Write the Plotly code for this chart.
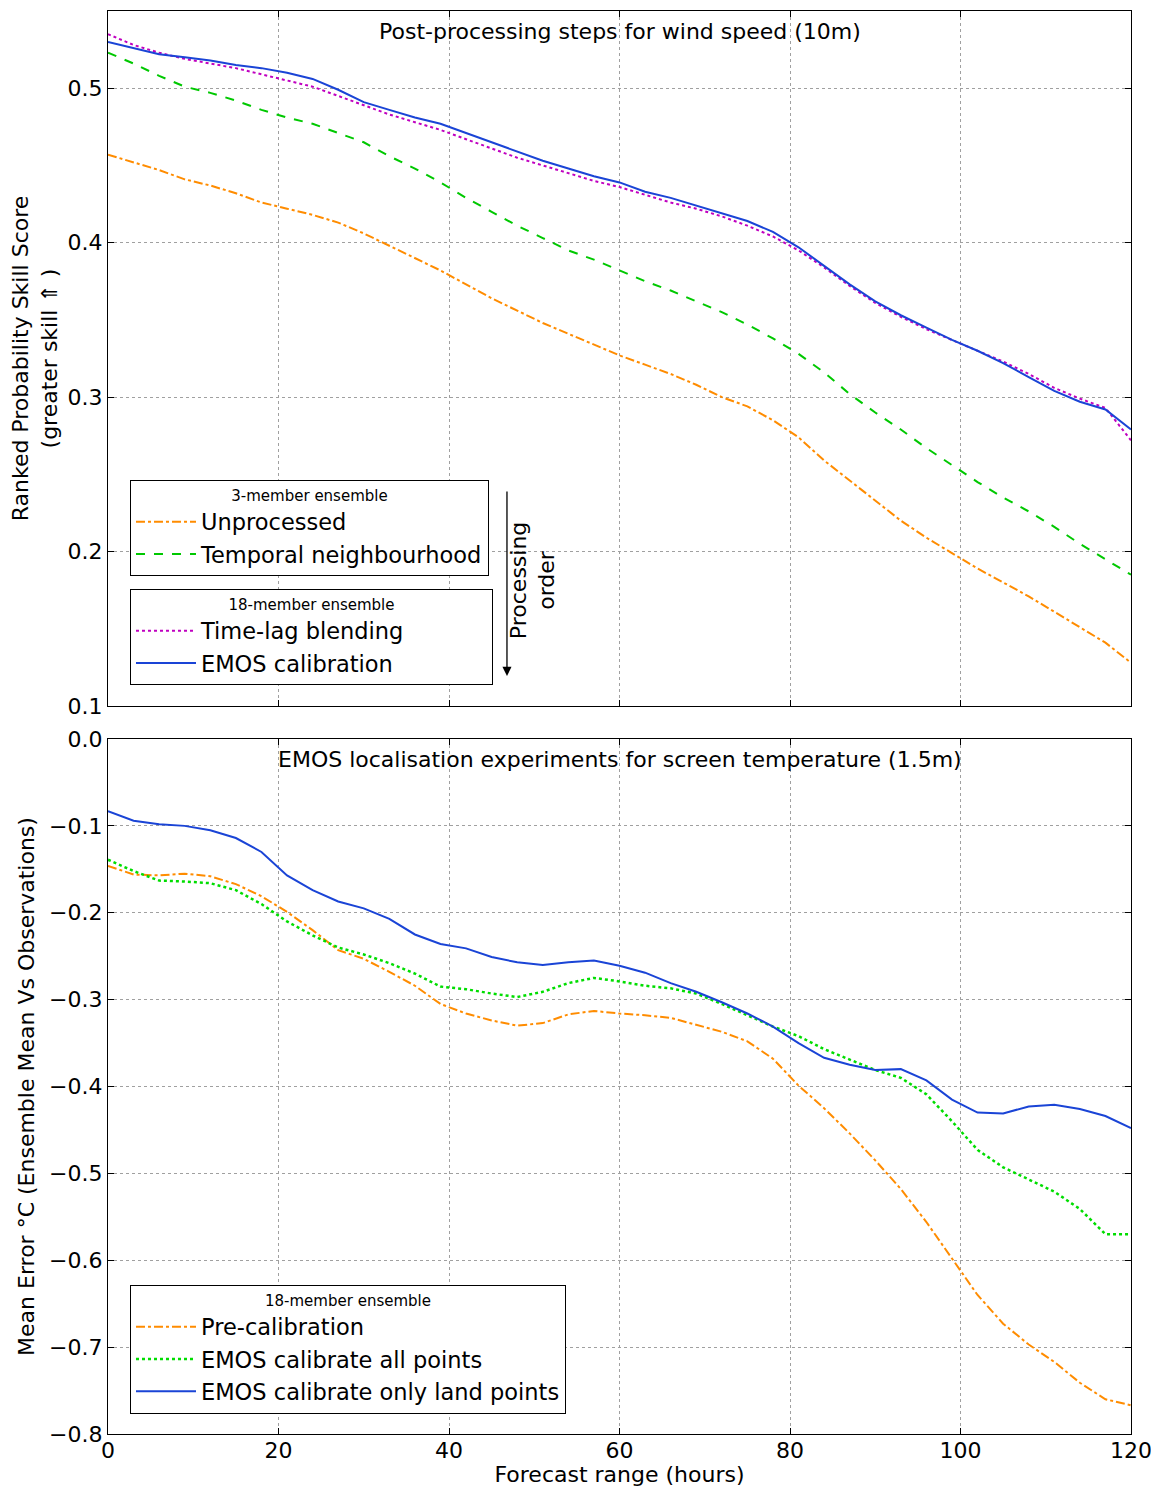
import plotly.graph_objects as go
from plotly.subplots import make_subplots

hours = list(range(0, 121, 3))

# Top panel: RPSS wind speed
unprocessed = [0.457, 0.452, 0.447, 0.441, 0.437, 0.432, 0.426, 0.422, 0.418, 0.413,
               0.406, 0.398, 0.390, 0.382, 0.373, 0.364, 0.356, 0.348, 0.341, 0.334,
               0.327, 0.321, 0.315, 0.308, 0.300, 0.294, 0.285, 0.274, 0.259, 0.246,
               0.233, 0.220, 0.209, 0.199, 0.189, 0.180, 0.171, 0.161, 0.151, 0.141, 0.128]
temporal = [0.523, 0.516, 0.508, 0.501, 0.497, 0.492, 0.486, 0.481, 0.477, 0.471,
            0.465, 0.456, 0.448, 0.439, 0.429, 0.420, 0.411, 0.403, 0.395, 0.389,
            0.382, 0.375, 0.369, 0.362, 0.355, 0.347, 0.338, 0.328, 0.316, 0.302,
            0.290, 0.279, 0.267, 0.256, 0.245, 0.235, 0.226, 0.216, 0.205, 0.195, 0.185]
timelag = [0.535, 0.528, 0.523, 0.519, 0.516, 0.513, 0.509, 0.505, 0.501, 0.495,
           0.489, 0.483, 0.478, 0.473, 0.467, 0.461, 0.455, 0.450, 0.445, 0.440,
           0.436, 0.431, 0.426, 0.422, 0.417, 0.411, 0.404, 0.395, 0.384, 0.372,
           0.361, 0.352, 0.344, 0.337, 0.330, 0.323, 0.315, 0.306, 0.299, 0.293, 0.272]
emos_cal = [0.530, 0.526, 0.522, 0.520, 0.518, 0.515, 0.513, 0.510, 0.506, 0.499,
            0.491, 0.486, 0.481, 0.477, 0.471, 0.465, 0.459, 0.453, 0.448, 0.443,
            0.439, 0.433, 0.429, 0.424, 0.419, 0.414, 0.407, 0.397, 0.385, 0.373,
            0.362, 0.353, 0.345, 0.337, 0.330, 0.322, 0.313, 0.304, 0.297, 0.292, 0.279]

# Bottom panel: mean error screen temperature
precal = [-0.146, -0.156, -0.157, -0.155, -0.158, -0.167, -0.181, -0.199, -0.220, -0.243,
          -0.253, -0.268, -0.284, -0.305, -0.316, -0.324, -0.330, -0.327, -0.317, -0.313,
          -0.316, -0.318, -0.321, -0.329, -0.337, -0.348, -0.368, -0.399, -0.425, -0.454,
          -0.485, -0.518, -0.556, -0.598, -0.640, -0.673, -0.697, -0.717, -0.741, -0.760, -0.767]
emos_all = [-0.139, -0.152, -0.163, -0.164, -0.166, -0.174, -0.190, -0.210, -0.226, -0.240,
            -0.248, -0.258, -0.270, -0.285, -0.288, -0.293, -0.297, -0.291, -0.281, -0.275,
            -0.279, -0.284, -0.287, -0.293, -0.305, -0.318, -0.331, -0.342, -0.357, -0.369,
            -0.381, -0.390, -0.409, -0.440, -0.473, -0.493, -0.507, -0.521, -0.541, -0.570, -0.570]
emos_land = [-0.083, -0.094, -0.098, -0.100, -0.105, -0.114, -0.130, -0.157, -0.174, -0.187,
             -0.195, -0.207, -0.225, -0.236, -0.241, -0.251, -0.257, -0.260, -0.257, -0.255,
             -0.261, -0.269, -0.281, -0.291, -0.303, -0.316, -0.331, -0.350, -0.367, -0.375,
             -0.381, -0.380, -0.393, -0.415, -0.430, -0.431, -0.423, -0.421, -0.426, -0.434, -0.448]

x_ticks = [0, 20, 40, 60, 80, 100, 120]
top_ticks = [0.1, 0.2, 0.3, 0.4, 0.5]
bot_ticks = [0.0, -0.1, -0.2, -0.3, -0.4, -0.5, -0.6, -0.7, -0.8]

ORANGE = "#FF8C00"
GREEN = "#00C800"
LIME = "#00DD00"
MAGENTA = "#C000C0"
BLUE = "#1A44D6"
FONT = "DejaVu Sans"
NB = "\u00a0"

fig = make_subplots(rows=2, cols=1, shared_xaxes=False, vertical_spacing=0.0232)

fig.add_trace(go.Scatter(x=hours, y=unprocessed, mode="lines", name="Unprocessed",
                         line=dict(color=ORANGE, width=2, dash="dashdot"), legend="legend"), row=1, col=1)
fig.add_trace(go.Scatter(x=hours, y=temporal, mode="lines", name="Temporal neighbourhood",
                         line=dict(color=GREEN, width=2, dash="dash"), legend="legend"), row=1, col=1)
fig.add_trace(go.Scatter(x=hours, y=timelag, mode="lines", name="Time-lag blending",
                         line=dict(color=MAGENTA, width=2, dash="dot"), legend="legend2"), row=1, col=1)
fig.add_trace(go.Scatter(x=hours, y=emos_cal, mode="lines", name="EMOS calibration",
                         line=dict(color=BLUE, width=2), legend="legend2"), row=1, col=1)

fig.add_trace(go.Scatter(x=hours, y=precal, mode="lines", name="Pre-calibration",
                         line=dict(color=ORANGE, width=2, dash="dashdot"), legend="legend3"), row=2, col=1)
fig.add_trace(go.Scatter(x=hours, y=emos_all, mode="lines", name="EMOS calibrate all points",
                         line=dict(color=LIME, width=2.5, dash="dot"), legend="legend3"), row=2, col=1)
fig.add_trace(go.Scatter(x=hours, y=emos_land, mode="lines", name="EMOS calibrate only land points",
                         line=dict(color=BLUE, width=2), legend="legend3"), row=2, col=1)

axis_common = dict(showline=True, linecolor="black", linewidth=1.2, mirror="ticks",
                   ticks="inside", ticklen=6, tickcolor="black", automargin=False,
                   ticklabeloverflow="allow",
                   showgrid=True, gridcolor="#a0a0a0", griddash="dot", gridwidth=1,
                   zeroline=False, tickfont=dict(family=FONT, size=22, color="black"))

fig.update_xaxes(range=[0, 120], tickvals=x_ticks, **axis_common)
fig.update_xaxes(showticklabels=False, row=1, col=1)
fig.update_xaxes(ticklabelstandoff=-4,
                 title=dict(text="Forecast range (hours)", font=dict(family=FONT, size=22, color="black"),
                            standoff=6), row=2, col=1)

fig.update_yaxes(**axis_common)
fig.update_yaxes(range=[0.1, 0.55], tickvals=top_ticks, tickformat=".1f",
                 title=dict(text="Ranked Probability Skill Score<br>(greater skill \u21d1 )",
                            font=dict(family=FONT, size=22, color="black"), standoff=8),
                 row=1, col=1)
fig.update_yaxes(range=[-0.8, 0.0], tickvals=bot_ticks, tickformat=".1f",
                 title=dict(text="Mean Error \u00b0C (Ensemble Mean Vs Observations)",
                            font=dict(family=FONT, size=22, color="black"), standoff=8),
                 row=2, col=1)

legend_common = dict(xref="paper", yref="paper", xanchor="left", yanchor="top",
                     bgcolor="white", bordercolor="black", borderwidth=1,
                     font=dict(family=FONT, size=22.5, color="black"),
                     tracegroupgap=0, itemwidth=60)

fig.update_layout(
    width=1151, height=1479,
    margin=dict(l=100, r=28, t=3, b=53, autoexpand=False),
    paper_bgcolor="white", plot_bgcolor="white",
    showlegend=True,
    legend=dict(x=0.0215, y=0.6704,
                title=dict(text="3-member ensemble", side="top center",
                           font=dict(family=FONT, size=15, color="black")),
                **legend_common),
    legend2=dict(x=0.0215, y=0.5938,
                 title=dict(text=NB * 20 + "18-member ensemble" + NB * 20, side="top center",
                            font=dict(family=FONT, size=15, color="black")),
                 **legend_common),
    legend3=dict(x=0.0215, y=0.1047,
                 title=dict(text="18-member ensemble", side="top center",
                            font=dict(family=FONT, size=15, color="black")),
                 **legend_common),
)

fig.add_annotation(text="Post-processing steps for wind speed (10m)", xref="x domain", yref="y domain",
                   x=0.5, y=0.97, xanchor="center", yanchor="middle", showarrow=False,
                   font=dict(family=FONT, size=22, color="black"))
fig.add_annotation(text="EMOS localisation experiments for screen temperature (1.5m)",
                   xref="x2 domain", yref="y2 domain",
                   x=0.5, y=0.97, xanchor="center", yanchor="middle", showarrow=False,
                   font=dict(family=FONT, size=22, color="black"))

# Processing order arrow
fig.add_annotation(x=0.390, y=0.5327, xref="paper", yref="paper", ax=0, ay=-186,
                   axref="pixel", ayref="pixel", text="", showarrow=True,
                   arrowhead=2, arrowsize=1.4, arrowwidth=1.3, arrowcolor="black")
fig.add_annotation(x=0.4154, y=0.600, xref="paper", yref="paper", text="Processing<br>order",
                   textangle=-90, showarrow=False, xanchor="center", yanchor="middle",
                   font=dict(family=FONT, size=22, color="black"))

fig.write_html("out.html")
